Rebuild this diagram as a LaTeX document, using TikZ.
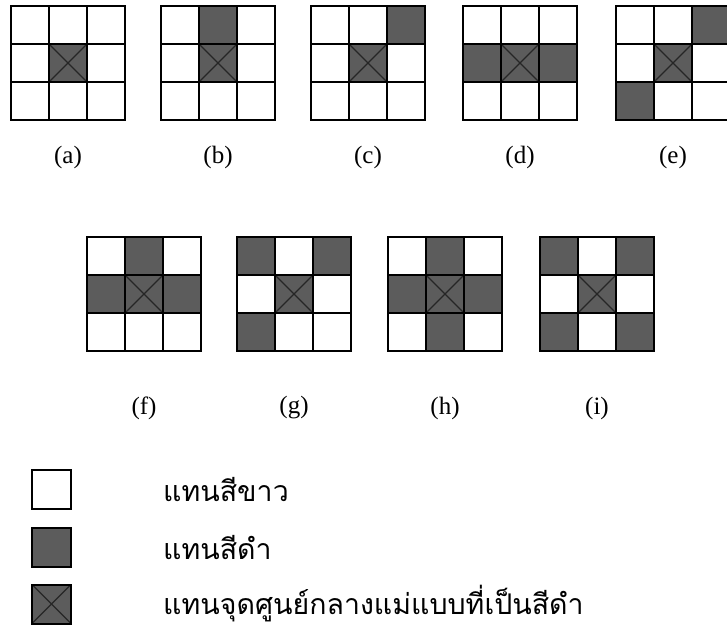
\documentclass[tikz,border=0pt]{standalone}
\usepackage{fontspec}
\setmainfont{Liberation Serif}
\newfontfamily\thaifont[Script=Thai]{Loma}

% one 3x3 mask: name, left, top, black cells (row-col)
\newcommand{\maskgrid}[4]{%
  \foreach \r in {1,2,3}
    \foreach \c in {1,2,3}
      \node[cellbox] (#1-\r-\c) at ({#2+(\c-0.5)*38},{#3+(\r-0.5)*38}) {};
  \foreach \rc in {#4}
    \node[blackbox] at (#1-\rc) {};
  \node[centrebox] (#1-mid) at (#1-2-2) {};
}

\begin{document}
\begin{tikzpicture}[
  x=1pt, y=-1pt,
  cellbox/.style={draw,line width=2pt,minimum size=38pt,inner sep=0pt,outer sep=0pt,fill=white},
  blackbox/.style={cellbox,fill=black!64},
  centrebox/.style={blackbox,path picture={
    \draw[line width=1.3pt,black!85]
      (path picture bounding box.south west) -- (path picture bounding box.north east)
      (path picture bounding box.north west) -- (path picture bounding box.south east);}},
  caption/.style={font=\fontsize{25}{28}\selectfont,inner sep=0pt},
  thaitext/.style={anchor=west,inner sep=0pt,font=\thaifont\fontsize{28.5}{32}\selectfont}
]
  \useasboundingbox (0,0) rectangle (727,629);

  % first row
  \maskgrid{a}{11}{6}{2-2}
  \maskgrid{b}{161}{6}{1-2,2-2}
  \maskgrid{c}{311}{6}{1-3,2-2}
  \maskgrid{d}{463}{6}{2-1,2-2,2-3}
  \maskgrid{e}{616}{6}{1-3,2-2,3-1}

  \node[caption] (lab-a) at (68,157) {(a)};
  \node[caption] (lab-b) at (218,157) {(b)};
  \node[caption] (lab-c) at (368,157) {(c)};
  \node[caption] (lab-d) at (520,157) {(d)};
  \node[caption] (lab-e) at (673,157) {(e)};

  % second row
  \maskgrid{f}{87}{237}{1-2,2-1,2-2,2-3}
  \maskgrid{g}{237}{237}{1-1,1-3,2-2,3-1}
  \maskgrid{h}{388}{237}{1-2,2-1,2-2,2-3,3-2}
  \maskgrid{i}{540}{237}{1-1,1-3,2-2,3-1,3-3}

  \node[caption] (lab-f) at (144,408) {(f)};
  \node[caption] (lab-g) at (294,408) {(g)};
  \node[caption] (lab-h) at (445,408) {(h)};
  \node[caption] (lab-i) at (597,408) {(i)};

  % legend
  \node[cellbox,minimum size=39pt] (key-white) at (51.5,489) {};
  \node[blackbox,minimum size=39pt] (key-black) at (51.5,547) {};
  \node[centrebox,minimum size=39pt] (key-mid) at (51.5,604) {};

  \node[thaitext] (txt-white) at (163,489) {แทนสีขาว};
  \node[thaitext] (txt-black) at (163,547) {แทนสีดำ};
  \node[thaitext] (txt-mid) at (163,604) {แทนจุดศูนย์กลางแม่แบบที่เป็นสีดำ};
\end{tikzpicture}
\end{document}
